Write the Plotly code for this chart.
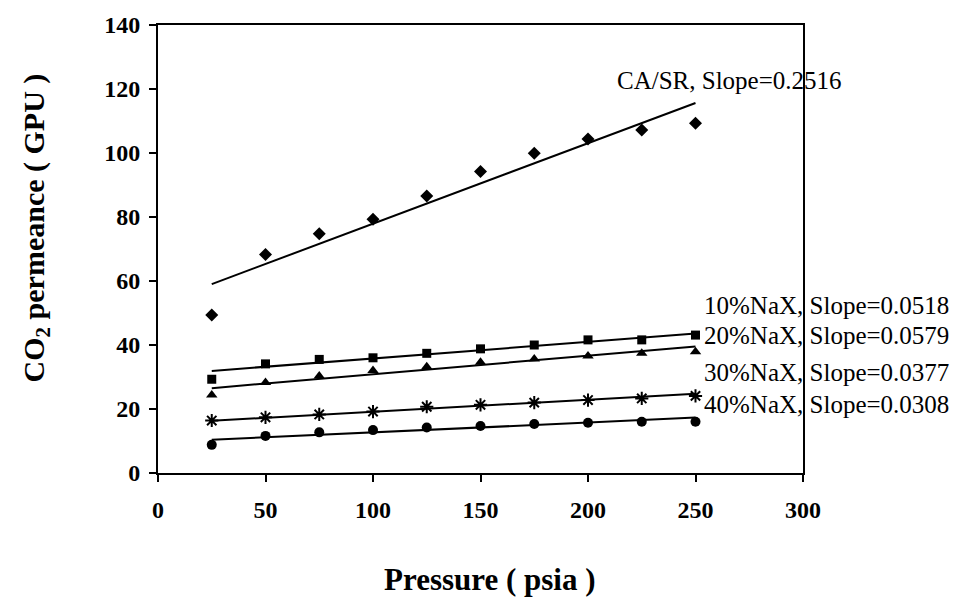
import numpy as np
import plotly.graph_objects as go

# Feed pressure (psia)
pressure = [25, 50, 75, 100, 125, 150, 175, 200, 225, 250]

# CO2 permeance (GPU) for each membrane
ca_sr = [49.4, 68.3, 74.8, 79.3, 86.6, 94.2, 99.9, 104.4, 107.2, 109.3]
nax_10 = [29.3, 34.1, 35.5, 36.0, 37.4, 38.8, 40.0, 41.6, 41.6, 43.1]
nax_20 = [24.4, 28.3, 30.3, 32.0, 33.2, 34.6, 35.6, 36.6, 37.4, 37.9]
nax_30 = [16.4, 17.4, 18.3, 19.2, 20.7, 21.3, 22.0, 22.8, 23.3, 24.1]
nax_40 = [8.8, 11.6, 12.7, 13.4, 14.2, 14.7, 15.3, 15.7, 16.0, 16.0]

# Slopes of the linear fits
slopes = [0.2516, 0.0518, 0.0579, 0.0377, 0.0308]
names = ["CA/SR", "10%NaX", "20%NaX", "30%NaX", "40%NaX"]
series = [ca_sr, nax_10, nax_20, nax_30, nax_40]
symbols = ["diamond", "square", "triangle-up", "asterisk-open", "circle"]
marker_sizes = [10, 9, 10, 11, 10]

# Label anchor positions (data units)
label_x = [212.5, 253, 253, 253, 253]
label_y = [122.8, 52.5, 43.1, 31.3, 21.3]

SERIF = "Times New Roman, Liberation Serif, serif"

fig = go.Figure()

for name, y, sym, ms, k in zip(names, series, symbols, marker_sizes, slopes):
    x = np.array(pressure, dtype=float)
    yv = np.array(y, dtype=float)
    # fitted line through the centroid with the stated slope
    b = yv.mean() - k * x.mean()
    xf = np.array([x.min(), x.max()])
    fig.add_trace(go.Scatter(
        x=xf, y=b + k * xf, mode="lines",
        line=dict(color="black", width=2), showlegend=False,
        hoverinfo="skip"))
    fig.add_trace(go.Scatter(
        x=pressure, y=y, mode="markers", name=name,
        marker=dict(symbol=sym, size=ms, color="black",
                    line=dict(color="black", width=2 if "asterisk" in sym else 0)),
        showlegend=False))

for name, k, lx, ly in zip(names, slopes, label_x, label_y):
    fig.add_annotation(
        x=lx, y=ly, xref="x", yref="y",
        text=f"{name}, Slope={k:.4f}",
        showarrow=False, xanchor="left", yanchor="middle",
        font=dict(family=SERIF, size=25, color="black"))

# Axis titles
fig.add_annotation(
    x=(490 - 158) / 645, y=-0.238, xref="paper", yref="paper",
    xanchor="center", yanchor="middle",
    text="<b>Pressure ( psia )</b>", showarrow=False,
    font=dict(family=SERIF, size=31, color="black"))
fig.add_annotation(
    x=-0.19, y=0.547, xref="paper", yref="paper", xanchor="center", yanchor="middle",
    text="<b>CO<sub>2</sub> permeance ( GPU )</b>", showarrow=False, textangle=-90,
    font=dict(family=SERIF, size=30, color="black"))

axis_common = dict(
    showgrid=False, zeroline=False, showline=True, linecolor="black",
    linewidth=2, mirror=True, ticks="outside", ticklen=7, tickwidth=2,
    tickcolor="black",
    tickfont=dict(family=SERIF, size=24, color="black", weight="bold"),
)

fig.update_xaxes(range=[0, 300], tickvals=[0, 50, 100, 150, 200, 250, 300],
                 ticklabelstandoff=7, **axis_common)
fig.update_yaxes(range=[0, 140], tickvals=[0, 20, 40, 60, 80, 100, 120, 140],
                 ticklabelstandoff=4, **axis_common)

fig.update_layout(
    width=965, height=597,
    margin=dict(l=158, r=162, t=25, b=124),
    plot_bgcolor="white", paper_bgcolor="white",
    showlegend=False,
)

fig.write_html("out.html")
